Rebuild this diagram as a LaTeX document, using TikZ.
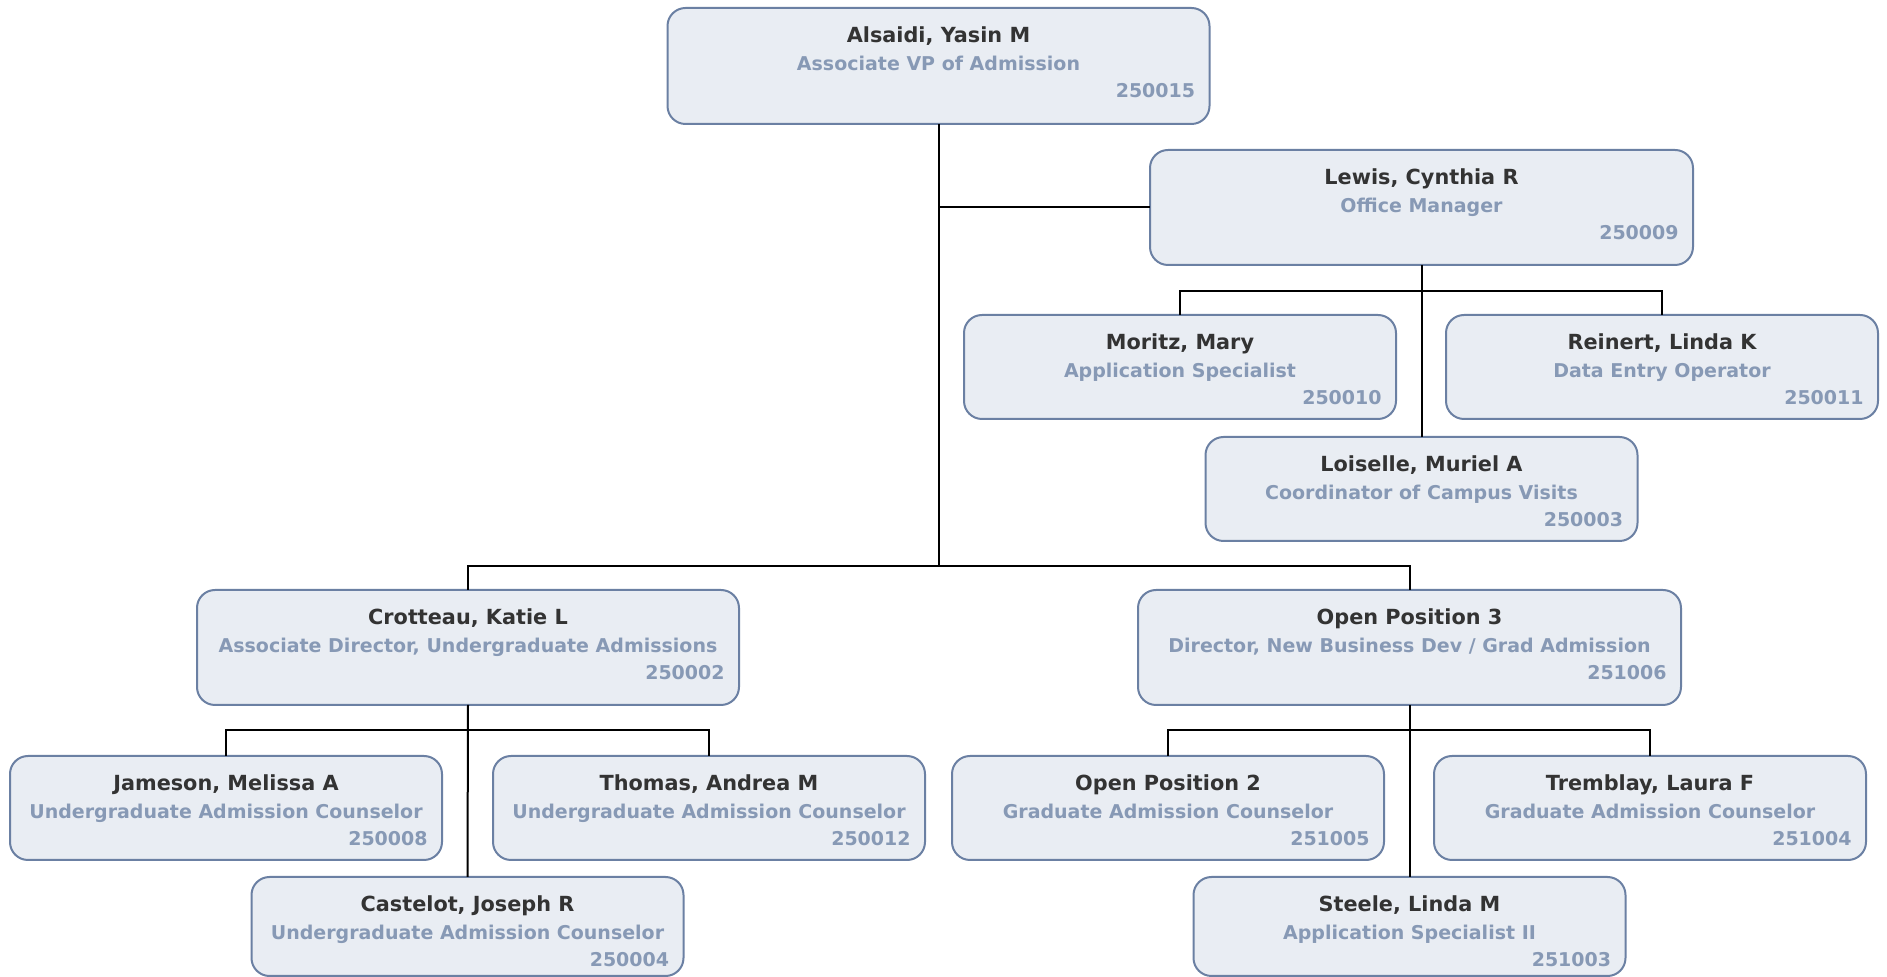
\documentclass[tikz,border=0pt]{standalone}
\usepackage{fontspec}
\setmainfont{DejaVu Sans}
\definecolor{cardfill}{HTML}{E9EDF3}
\definecolor{cardline}{HTML}{6B80A3}
\definecolor{nameink}{HTML}{333333}
\definecolor{titleink}{HTML}{8799B5}
\tikzset{
  card/.style={draw=cardline, fill=cardfill, line width=1pt, rounded corners=9pt,
    inner sep=0pt, outer sep=0pt, anchor=north},
  nametext/.style={font=\bfseries\fontsize{10.4}{12}\selectfont, text=nameink, inner sep=0pt, anchor=base},
  titletext/.style={font=\bfseries\fontsize{9.5}{11}\selectfont, text=titleink, inner sep=0pt, anchor=base},
  idtext/.style={font=\bfseries\fontsize{9.5}{11}\selectfont, text=titleink, inner sep=0pt, anchor=base east},
  wire/.style={draw=black, line width=1pt},
}
% \person{id}{centre x}{top y}{width}{height}{name}{title}{number}
\newcommand\person[8]{%
  \node[card, minimum width=#4*0.5pt, minimum height=#5*0.5pt] (#1) at (#2,#3) {};
  \path (#1.north) ++(0,35) node[nametext] (#1-name) {#6};
  \path (#1.north) ++(0,63) node[titletext] (#1-title) {#7};
  \path (#1.north east) ++(-14,90) node[idtext] (#1-id) {#8};
}
\begin{document}
\begin{tikzpicture}[x=0.5pt,y=-0.5pt]
\useasboundingbox (0,0) rectangle (1887,977);
\clip (0,0) rectangle (1887,977);

% junction points of the reporting lines
\coordinate (vpbar) at (938.5,566);
\coordinate (lewisbar) at (1421.5,291);
\coordinate (ugbar) at (468,730);
\coordinate (gradbar) at (1409.5,730);

% cards
\person{alsaidi}{938.5}{8}{542}{116}{Alsaidi, Yasin M}{Associate VP of Admission}{250015}
\person{lewis}{1421.5}{150}{543}{115}{Lewis, Cynthia R}{Office Manager}{250009}
\person{moritz}{1180}{315}{432}{104}{Moritz, Mary}{Application Specialist}{250010}
\person{reinert}{1662}{315}{432}{104}{Reinert, Linda K}{Data Entry Operator}{250011}
\person{loiselle}{1421.5}{437}{432}{104}{Loiselle, Muriel A}{Coordinator of Campus Visits}{250003}
\person{crotteau}{468}{590}{542}{115}{Crotteau, Katie L}{Associate Director, Undergraduate Admissions}{250002}
\person{op3}{1409.5}{590}{543}{115}{Open Position 3}{Director, New Business Dev / Grad Admission}{251006}
\person{jameson}{226}{756}{432}{104}{Jameson, Melissa A}{Undergraduate Admission Counselor}{250008}
\person{thomas}{709}{756}{432}{104}{Thomas, Andrea M}{Undergraduate Admission Counselor}{250012}
\person{castelot}{467.5}{877}{432}{99}{Castelot, Joseph R}{Undergraduate Admission Counselor}{250004}
\person{op2}{1168}{756}{432}{104}{Open Position 2}{Graduate Admission Counselor}{251005}
\person{tremblay}{1650}{756}{432}{104}{Tremblay, Laura F}{Graduate Admission Counselor}{251004}
\person{steele}{1409.5}{877}{432}{99}{Steele, Linda M}{Application Specialist II}{251003}

% reporting lines
\draw[wire] (alsaidi.south) -- (vpbar);
\draw[wire] (alsaidi.south |- lewis.west) -- (lewis.west);
\draw[wire] (crotteau.north) |- (vpbar);
\draw[wire] (op3.north) |- (vpbar);

\draw[wire] (lewis.south) -- (loiselle.north);
\draw[wire] (moritz.north) |- (lewisbar);
\draw[wire] (reinert.north) |- (lewisbar);

\draw[wire] (crotteau.south) -- (castelot.north);
\draw[wire] (jameson.north) |- (ugbar);
\draw[wire] (thomas.north) |- (ugbar);

\draw[wire] (op3.south) -- (steele.north);
\draw[wire] (op2.north) |- (gradbar);
\draw[wire] (tremblay.north) |- (gradbar);
\end{tikzpicture}
\end{document}
